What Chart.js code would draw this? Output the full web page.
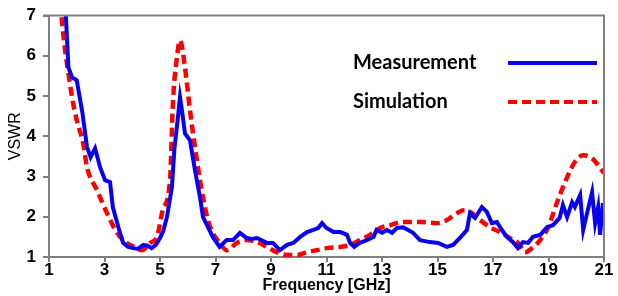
<!DOCTYPE html>
<html>
<head>
<meta charset="utf-8">
<script src="https://cdn.jsdelivr.net/npm/chart.js@4.4.0/dist/chart.umd.min.js"></script>
<style>
  html, body { margin: 0; padding: 0; background: #fff; }
  #wrap { width: 618px; height: 296px; }
</style>
</head>
<body>
<div id="wrap"><canvas id="vswrChart" width="618" height="296"></canvas></div>
<script>
// Chart data
const measFreq = [1.3, 1.6, 1.7, 1.83, 2.0, 2.2, 2.37, 2.5, 2.66, 2.84, 3.02, 3.2, 3.3, 3.5, 3.67, 3.85, 4.03, 4.2, 4.4, 4.55, 4.7, 4.85, 5.0, 5.12, 5.25, 5.43, 5.52, 5.62, 5.72, 5.8, 5.9, 6.08, 6.26, 6.44, 6.55, 6.73, 6.9, 7.15, 7.4, 7.63, 7.88, 8.13, 8.3, 8.5, 8.85, 9.07, 9.32, 9.58, 9.8, 10.05, 10.3, 10.5, 10.7, 10.84, 11.0, 11.25, 11.5, 11.74, 11.85, 12.0, 12.2, 12.45, 12.7, 12.8, 13.0, 13.18, 13.36, 13.54, 13.76, 13.94, 14.12, 14.37, 14.73, 15.02, 15.34, 15.56, 15.8, 16.06, 16.17, 16.35, 16.6, 16.78, 16.96, 17.14, 17.32, 17.5, 17.72, 17.9, 18.08, 18.26, 18.44, 18.7, 18.95, 19.16, 19.4, 19.52, 19.67, 19.85, 19.95, 20.14, 20.25, 20.39, 20.57, 20.68, 20.79, 20.86, 20.96, 21.0];
const measVswr = [7.5, 7.1, 5.71, 5.46, 5.39, 4.6, 3.73, 3.48, 3.7, 3.23, 2.91, 2.86, 2.24, 1.74, 1.35, 1.25, 1.22, 1.2, 1.3, 1.28, 1.22, 1.3, 1.47, 1.65, 1.99, 2.74, 3.7, 4.3, 4.97, 4.6, 4.07, 3.9, 3.16, 2.49, 1.99, 1.74, 1.5, 1.25, 1.42, 1.42, 1.6, 1.47, 1.45, 1.47, 1.35, 1.35, 1.17, 1.3, 1.35, 1.5, 1.62, 1.67, 1.72, 1.84, 1.72, 1.62, 1.62, 1.55, 1.35, 1.25, 1.35, 1.42, 1.5, 1.67, 1.6, 1.67, 1.6, 1.72, 1.74, 1.67, 1.6, 1.42, 1.37, 1.35, 1.25, 1.3, 1.47, 1.67, 2.09, 1.97, 2.24, 2.12, 1.84, 1.87, 1.67, 1.5, 1.37, 1.22, 1.37, 1.35, 1.5, 1.55, 1.74, 1.79, 1.97, 2.29, 1.99, 2.36, 2.24, 2.54, 1.67, 2.09, 2.61, 1.84, 2.24, 1.55, 2.34, 2.0];
const simFreq = [1.4, 1.58, 1.7, 1.83, 2.0, 2.23, 2.37, 2.73, 3.09, 3.45, 3.81, 4.1, 4.35, 4.64, 4.89, 5.1, 5.36, 5.47, 5.6, 5.72, 5.9, 6.08, 6.26, 6.44, 6.7, 6.9, 7.15, 7.4, 7.77, 8.13, 8.5, 8.85, 9.2, 9.58, 9.94, 10.3, 10.66, 11.0, 11.5, 11.85, 12.2, 12.57, 12.93, 13.29, 13.76, 14.37, 14.98, 15.34, 15.7, 15.99, 16.24, 16.53, 16.89, 17.25, 17.61, 17.9, 18.16, 18.4, 18.7, 18.99, 19.3, 19.67, 19.95, 20.25, 20.57, 20.79, 21.0];
const simVswr = [7.3, 6.13, 5.56, 4.97, 4.4, 3.83, 3.23, 2.66, 2.09, 1.6, 1.35, 1.24, 1.17, 1.35, 1.5, 2.17, 2.91, 4.89, 5.9, 6.38, 5.71, 4.65, 3.73, 2.91, 1.99, 1.6, 1.35, 1.17, 1.35, 1.42, 1.37, 1.25, 1.12, 1.05, 1.05, 1.12, 1.17, 1.22, 1.25, 1.3, 1.42, 1.55, 1.72, 1.79, 1.87, 1.87, 1.84, 1.92, 2.09, 2.17, 2.09, 1.92, 1.74, 1.62, 1.47, 1.35, 1.12, 1.22, 1.42, 1.74, 2.34, 2.98, 3.36, 3.53, 3.45, 3.28, 3.08];
const seriesNames = ["Measurement", "Simulation"];
const xTicks = [1, 3, 5, 7, 9, 11, 13, 15, 17, 19, 21];
const yTicks = [1, 2, 3, 4, 5, 6, 7];

const toPoints = (xs, ys) => xs.map((x, i) => ({ x: x, y: ys[i] }));

const axisGrey = "#7f7f7f";
const tickFont = { family: "'Liberation Sans Narrow', 'Liberation Sans', Arial", size: 17, weight: "bold", lineHeight: 1 };

// Top and right frame lines
const framePlugin = {
  id: "frame",
  afterDraw(chart) {
    const { ctx, chartArea: a } = chart;
    ctx.save();
    ctx.strokeStyle = axisGrey;
    ctx.lineWidth = 2;
    ctx.beginPath();
    ctx.moveTo(a.left - 6, a.top);
    ctx.lineTo(a.right, a.top);
    ctx.lineTo(a.right, a.bottom);
    ctx.stroke();
    ctx.restore();
  }
};

// Legend: label on the left, line sample on the right
const sideLegend = {
  id: "sideLegend",
  afterDraw(chart) {
    const { ctx } = chart;
    const rows = [63, 102];
    ctx.save();
    chart.data.datasets.forEach((ds, i) => {
      const y = rows[i];
      ctx.fillStyle = "#000";
      ctx.font = "bold 20px Lato, 'Open Sans', sans-serif";
      ctx.textBaseline = "middle";
      ctx.textAlign = "left";
      ctx.fillText(ds.label, 353, y);
      ctx.strokeStyle = ds.borderColor;
      ctx.lineWidth = 4;
      ctx.setLineDash(ds.borderDash || []);
      ctx.beginPath();
      ctx.moveTo(508, y);
      ctx.lineTo(597, y);
      ctx.stroke();
    });
    ctx.restore();
  }
};

new Chart(document.getElementById("vswrChart"), {
  type: "line",
  data: {
    datasets: [
      {
        label: seriesNames[0],
        data: toPoints(measFreq, measVswr),
        borderColor: "#0a00f0",
        borderWidth: 4,
        pointRadius: 0,
        tension: 0,
        fill: false
      },
      {
        label: seriesNames[1],
        data: toPoints(simFreq, simVswr),
        borderColor: "#ff0000",
        borderWidth: 4.5,
        borderDash: [9, 5],
        pointRadius: 0,
        cubicInterpolationMode: "monotone",
        fill: false
      }
    ]
  },
  options: {
    responsive: false,
    animation: false,
    layout: { padding: { top: 15, right: 14, left: 0, bottom: 0 } },
    plugins: {
      legend: { display: false },
      tooltip: { enabled: false }
    },
    scales: {
      x: {
        type: "linear",
        min: 1,
        max: 21,
        afterBuildTicks: (scale) => { scale.ticks = xTicks.map(v => ({ value: v })); },
        afterFit: (scale) => { scale.height = 39; },
        ticks: { font: tickFont, color: "#000", padding: 0, maxRotation: 0, autoSkip: false },
        grid: { drawOnChartArea: false, drawTicks: true, tickLength: 5, color: axisGrey, lineWidth: 2 },
        border: { color: axisGrey, width: 2 },
        title: {
          display: true,
          text: "Frequency [GHz]",
          color: "#000",
          font: { family: "'Liberation Sans', Arial", size: 16, weight: "bold" },
          padding: { top: 0, bottom: 1 }
        }
      },
      y: {
        min: 1,
        max: 7,
        afterBuildTicks: (scale) => { scale.ticks = yTicks.map(v => ({ value: v })); },
        afterFit: (scale) => { scale.width = 49; },
        ticks: { font: tickFont, color: "#000", padding: 7 },
        grid: { drawOnChartArea: false, drawTicks: true, tickLength: 6, color: axisGrey, lineWidth: 2 },
        border: { color: axisGrey, width: 2 },
        title: {
          display: true,
          text: "VSWR",
          color: "#000",
          font: { family: "'Liberation Sans', Arial", size: 16 },
          padding: { top: 6, bottom: 0 }
        }
      }
    }
  },
  plugins: [framePlugin, sideLegend]
});
</script>
</body>
</html>
